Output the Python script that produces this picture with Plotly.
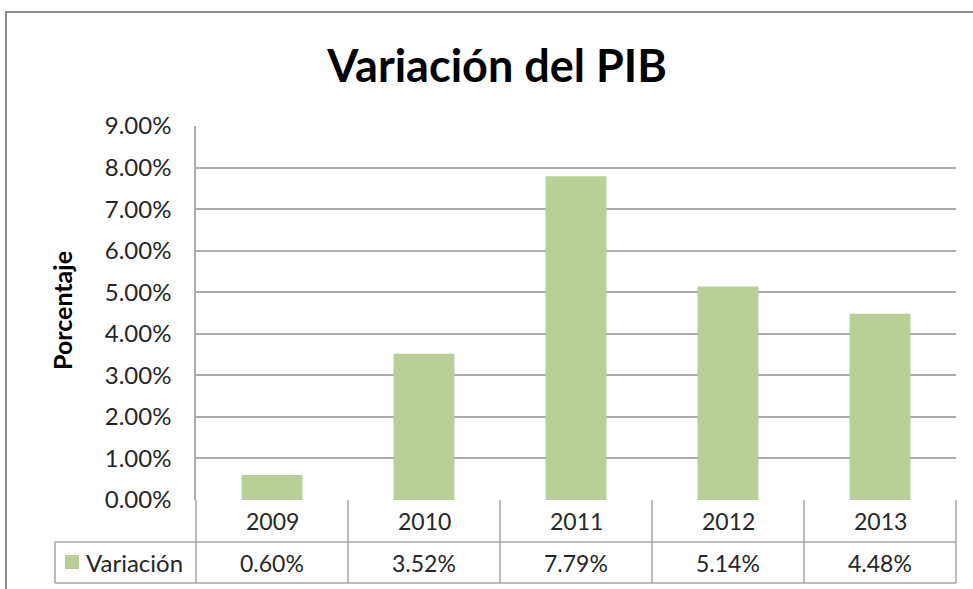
import plotly.graph_objects as go

years = ["2009", "2010", "2011", "2012", "2013"]
variacion = [0.0060, 0.0352, 0.0779, 0.0514, 0.0448]
series_name = "Variación"
title_text = "Variación del PIB"
y_title = "Porcentaje"
y_ticks = [i / 100 for i in range(0, 10)]

W, H = 973, 589
L, R, T, B = 196, 17, 126, 89
pw, ph = W - L - R, H - T - B

def px_x(p):
    return (p - L) / pw

def px_y(p):
    return (H - B - p) / ph

bar_color = "#B9CF97"
grid_color = "#ABABAB"
table_color = "#A6A6A6"
font = "Lato"
text_color = "#262626"

fig = go.Figure()
fig.add_trace(go.Bar(x=years, y=variacion, name=series_name,
                     marker=dict(color=bar_color, line=dict(width=0)),
                     showlegend=False))

n = len(years)
row1_bot = px_y(542)
row2_bot = px_y(583)
shapes = []
for yy in (row1_bot, row2_bot):
    shapes.append(dict(type="line", xref="paper", yref="paper", x0=px_x(55), x1=1,
                       y0=yy, y1=yy, line=dict(color=table_color, width=1.5)))
for i in range(n + 1):
    shapes.append(dict(type="line", xref="paper", yref="paper", x0=i / n, x1=i / n,
                       y0=0, y1=row2_bot, line=dict(color=table_color, width=1.5)))
shapes.append(dict(type="line", xref="paper", yref="paper", x0=px_x(55), x1=px_x(55),
                   y0=row1_bot, y1=row2_bot, line=dict(color=table_color, width=1.5)))
shapes.append(dict(type="rect", xref="paper", yref="paper", x0=px_x(6), x1=px_x(1000),
                   y0=px_y(610), y1=px_y(12), line=dict(color="#8C8C8C", width=2)))
shapes.append(dict(type="rect", xref="paper", yref="paper", x0=px_x(65), x1=px_x(79),
                   y0=px_y(569), y1=px_y(555), line=dict(width=0), fillcolor=bar_color))

annotations = []
for i, (yr, v) in enumerate(zip(years, variacion)):
    annotations.append(dict(x=i, y=(0 + row1_bot) / 2, xref="x", yref="paper", text=yr,
                            showarrow=False, font=dict(family=font, size=23, color=text_color),
                            yanchor="middle"))
    annotations.append(dict(x=i, y=(row1_bot + row2_bot) / 2, xref="x", yref="paper",
                            text=f"{v*100:.2f}%", showarrow=False,
                            font=dict(family=font, size=23, color=text_color), yanchor="middle"))
annotations.append(dict(x=px_x(84), y=(row1_bot + row2_bot) / 2, xref="paper", yref="paper",
                        text=series_name, showarrow=False, xanchor="left", yanchor="middle",
                        font=dict(family=font, size=24, color=text_color)))
annotations.append(dict(x=px_x(62), y=px_y(311), xref="paper", yref="paper", text=f"<b>{y_title}</b>",
                        showarrow=False, textangle=-90, xanchor="center", yanchor="middle",
                        font=dict(family=font, size=25, color="#000000")))

fig.update_layout(
    width=W, height=H,
    margin=dict(l=L, r=R, t=T, b=B, autoexpand=False),
    paper_bgcolor="white", plot_bgcolor="white",
    title=dict(text=f"<b>{title_text}</b>", x=497 / W, xanchor="center",
               y=1 - 66 / H, yanchor="middle",
               font=dict(family=font, size=45, color="#000000")),
    bargap=0.6,
    showlegend=False,
    shapes=shapes,
    annotations=annotations,
    xaxis=dict(type="category", range=[-0.5, n - 0.5], showticklabels=False, showgrid=False,
               zeroline=False, ticks="", showline=False, automargin=False),
    yaxis=dict(range=[0, 0.09], tickvals=y_ticks, tickformat=".2%", automargin=False,
               showgrid=True, gridcolor=grid_color, gridwidth=1.5,
               zeroline=False, showline=True, linecolor=grid_color, linewidth=1.5,
               ticks="", ticklabelstandoff=18,
               tickfont=dict(family=font, size=24, color=text_color)),
)

fig.write_html("out.html", config={"displayModeBar": False},
               post_script="document.body.style.margin='0';")
